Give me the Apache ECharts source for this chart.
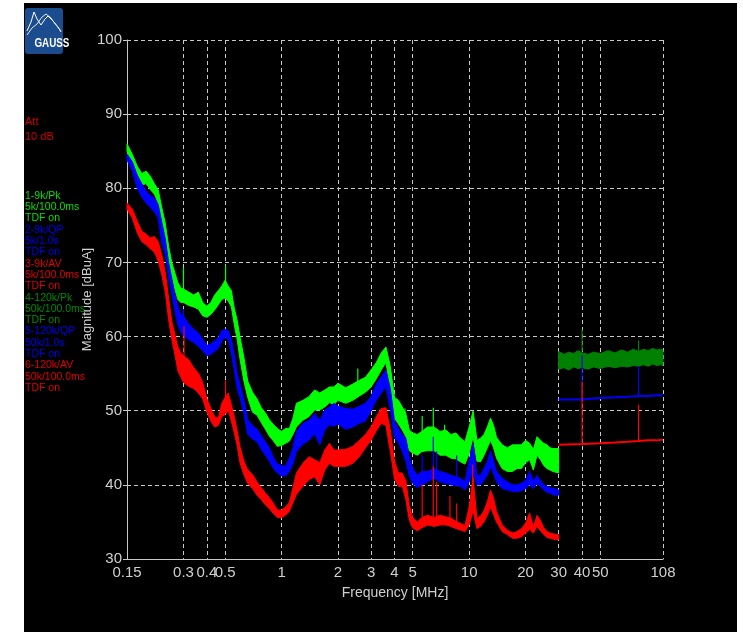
<!DOCTYPE html>
<html>
<head>
<meta charset="utf-8">
<script src="https://cdn.jsdelivr.net/npm/echarts@6.0.0/dist/echarts.min.js"></script>
<style>
  html, body { margin: 0; padding: 0; background: #ffffff; }
  #bg { position: absolute; left: 24px; top: 3px; width: 713px; height: 629px; background: #000000; }
  #chart { position: absolute; left: 0; top: 0; width: 743px; height: 632px; }
</style>
</head>
<body>
<div id="bg"></div>
<div id="chart"></div>
<script>
// frequency grid of the 9 kHz band (MHz)
const freq9k = [0.15, 0.16, 0.17, 0.18, 0.19, 0.20, 0.21, 0.22, 0.23, 0.24, 0.25, 0.26, 0.27, 0.28, 0.29, 0.30,
  0.32, 0.34, 0.36, 0.38, 0.40, 0.42, 0.44, 0.46, 0.48, 0.50, 0.52, 0.54, 0.56, 0.58, 0.60,
  0.63, 0.66, 0.70, 0.74, 0.78, 0.82, 0.86, 0.90, 0.95, 1.0, 1.05, 1.1, 1.15, 1.2,
  1.3, 1.4, 1.5, 1.6, 1.7, 1.8, 1.9, 2.0, 2.2, 2.4, 2.6, 2.8, 3.0, 3.2, 3.4, 3.6, 3.8,
  4.0, 4.2, 4.4, 4.6, 4.8, 5.0, 5.3, 5.6, 6.0, 6.5, 7.0, 7.5, 8.0, 8.5, 9.0, 9.5,
  10, 10.5, 11, 11.5, 12, 12.5, 13, 13.5, 14, 15, 16, 17, 18, 19, 20, 21, 22, 23, 24, 25, 26, 27, 28, 29, 30]

// 1-9k/Pk (green) lower / upper edge of the noise band, dBuA
const pkLo = [85.0, 83.2, 81.8, 80.5, 80.6, 79.8, 79.2, 78.0, 75.4, 73.0, 70.0, 68.2, 66.4, 65.0, 64.6, 64.6,
  64.2, 64.0, 63.7, 62.8, 62.6, 63.0, 63.6, 64.3, 65.0, 65.2, 64.8, 64.0, 61.6, 59.6, 57.0,
  54.0, 51.8, 49.8, 49.4, 48.4, 47.5, 46.6, 46.0, 45.2, 45.3, 45.6, 45.9, 46.8, 47.8,
  48.7, 49.2, 50.1, 50.1, 50.5, 51.1, 50.8, 51.4, 51.0, 51.4, 52.0, 52.5, 53.2, 54.3, 55.5, 56.5, 53.0,
  49.0, 48.2, 47.4, 46.5, 44.6, 44.3, 44.0, 44.5, 44.6, 44.6, 44.0, 44.0, 43.6, 43.5, 43.1, 42.8,
  44.2, 46.5, 43.2, 43.1, 44.0, 45.0, 46.0, 45.0, 43.6, 42.2, 41.8, 41.8, 42.2, 42.2, 43.0, 43.4, 42.0, 44.0, 43.4, 42.6, 42.2, 42.0, 41.8, 41.7, 41.6]
const pkHi = [86.0, 84.6, 83.0, 82.0, 82.3, 81.6, 80.6, 79.8, 77.4, 75.3, 72.2, 70.0, 68.6, 67.3, 66.6, 66.4,
  66.0, 65.6, 66.0, 64.6, 64.1, 64.6, 65.6, 66.2, 66.8, 67.6, 66.8, 66.2, 63.8, 62.2, 60.0,
  57.2, 54.0, 52.5, 51.6, 50.4, 49.7, 48.8, 48.2, 47.6, 47.2, 47.6, 47.6, 49.0, 51.0,
  51.4, 51.9, 52.8, 52.4, 52.8, 53.2, 53.2, 53.7, 53.1, 53.6, 54.1, 54.5, 55.5, 56.5, 57.8, 58.6, 56.0,
  51.8, 51.4, 50.5, 49.6, 47.4, 47.0, 46.8, 47.2, 47.8, 47.8, 47.2, 47.4, 46.8, 47.0, 46.3, 45.8,
  47.8, 50.0, 46.0, 46.3, 46.8, 47.8, 49.0, 48.0, 46.4, 45.4, 45.0, 45.4, 45.4, 45.4, 46.0, 45.6, 44.8, 46.5, 46.0, 45.6, 45.4, 45.0, 44.9, 44.9, 44.9]

// 2-9k/QP (blue)
const qpLo = [83.8, 82.4, 80.0, 78.8, 78.0, 77.4, 76.8, 76.0, 72.6, 71.0, 68.0, 65.8, 63.4, 61.6, 60.6, 60.1,
  59.6, 59.2, 58.7, 58.1, 57.4, 57.6, 58.0, 58.4, 59.4, 59.9, 59.6, 57.8, 55.5, 53.0, 51.8,
  49.6, 46.8, 46.2, 45.8, 44.8, 44.0, 43.2, 42.3, 41.6, 41.2, 41.2, 41.8, 42.8, 44.5,
  45.5, 46.0, 46.9, 45.4, 47.4, 48.1, 47.9, 48.2, 47.5, 47.8, 48.3, 48.6, 50.0, 51.4, 52.4, 53.2, 50.2,
  46.4, 45.7, 44.5, 43.2, 41.2, 40.2, 39.6, 40.0, 40.4, 40.9, 40.4, 40.2, 40.0, 39.9, 39.8, 39.3,
  40.4, 42.0, 40.0, 40.0, 40.6, 41.3, 42.5, 41.5, 40.4, 39.5, 39.3, 39.1, 39.1, 39.2, 39.5, 40.0, 39.5, 40.2, 39.8, 39.3, 39.0, 38.9, 38.7, 38.6, 38.6]
const qpHi = [84.6, 83.6, 81.8, 80.6, 79.6, 79.0, 78.7, 77.8, 75.4, 73.2, 70.0, 67.8, 65.6, 64.1, 63.0, 62.8,
  61.7, 61.0, 60.5, 59.6, 58.8, 59.0, 59.4, 59.8, 60.8, 61.0, 60.8, 59.6, 57.5, 55.0, 53.6,
  51.4, 48.8, 48.0, 47.5, 46.6, 45.8, 45.0, 43.8, 42.8, 42.6, 42.5, 43.6, 45.0, 47.2,
  48.3, 48.7, 49.6, 48.7, 50.1, 50.5, 51.0, 50.6, 50.3, 50.2, 50.6, 51.0, 51.9, 53.6, 54.6, 55.5, 53.0,
  48.6, 47.6, 46.8, 46.3, 43.6, 42.2, 41.3, 41.8, 41.8, 42.2, 41.8, 41.6, 41.3, 41.1, 40.9, 40.4,
  43.2, 45.6, 41.3, 41.3, 42.2, 43.1, 44.6, 43.2, 41.8, 40.9, 40.4, 40.0, 40.0, 40.2, 40.6, 41.8, 40.5, 41.3, 40.6, 40.0, 39.8, 39.6, 39.5, 39.4, 39.3]

// 3-9k/AV (red)
const avLo = [77.2, 76.0, 74.0, 72.8, 72.4, 71.8, 71.4, 70.2, 68.3, 66.0, 62.3, 59.6, 57.6, 55.4, 54.6, 53.8,
  53.3, 53.0, 52.4, 51.6, 49.8, 48.6, 47.8, 48.0, 49.2, 49.5, 50.0, 48.6, 47.0, 45.3, 43.0,
  41.4, 40.2, 39.5, 38.6, 38.0, 37.3, 36.8, 36.2, 35.6, 35.6, 35.9, 36.4, 37.6, 38.7,
  39.8, 40.7, 41.1, 40.0, 42.0, 42.9, 42.5, 42.5, 42.5, 42.9, 43.8, 45.0, 46.0, 47.3, 48.3, 48.0, 44.5,
  40.8, 39.8, 39.8, 38.0, 35.2, 34.2, 33.8, 34.2, 34.6, 34.4, 34.6, 34.6, 34.4, 34.1, 33.9, 33.7,
  34.6, 36.5, 34.1, 34.4, 35.0, 35.9, 37.0, 36.0, 35.0, 33.7, 33.3, 32.8, 32.8, 33.0, 33.5, 34.0, 33.5, 34.4, 33.8, 33.3, 32.9, 32.8, 32.7, 32.6, 32.6]
const avHi = [78.0, 77.2, 75.6, 74.2, 73.8, 73.3, 73.5, 72.8, 71.0, 68.6, 65.2, 62.0, 60.3, 58.6, 57.8, 57.4,
  56.9, 55.8, 55.1, 53.8, 51.6, 50.3, 49.2, 49.0, 51.0, 51.8, 52.4, 50.8, 49.2, 47.3, 45.2,
  43.2, 42.0, 41.4, 40.4, 39.6, 38.9, 38.3, 37.6, 36.6, 36.6, 37.0, 37.6, 39.6, 41.6,
  42.9, 43.8, 43.4, 43.0, 44.7, 45.6, 44.7, 44.7, 44.8, 45.2, 46.0, 46.8, 47.8, 49.2, 50.3, 50.4, 47.4,
  43.2, 41.6, 41.6, 40.5, 37.2, 35.6, 35.0, 35.6, 35.9, 35.6, 35.9, 35.7, 35.5, 35.1, 34.8, 34.5,
  37.0, 41.0, 35.5, 35.8, 36.5, 37.7, 39.3, 38.2, 36.4, 34.6, 33.9, 33.5, 33.7, 34.1, 34.8, 36.2, 34.3, 35.9, 35.2, 34.2, 33.7, 33.5, 33.4, 33.3, 33.3]

// narrow spikes: [freq, from, to]
const pkSpikes = [[0.30, 66.0, 69.3], [0.503, 67.0, 69.6], [2.55, 53.5, 55.7], [4.55, 49.0, 50.3], [5.62, 46.5, 49.3], [6.44, 47.0, 50.4], [7.4, 46.5, 48.1]]
const qpSpikes = [[0.30, 62.0, 63.7], [5.62, 41.0, 44.0], [6.44, 41.5, 46.5], [6.71, 41.5, 44.5], [8.58, 41.0, 44.0]]
const avSpikes = [[0.302, 56.0, 61.4], [0.503, 51.5, 54.1], [5.62, 35.0, 40.0], [6.44, 35.0, 42.5], [6.71, 35.5, 40.4], [7.9, 35.0, 38.5], [8.58, 35.0, 37.5], [10.45, 40.0, 42.7]]

// 120 kHz band
const freq120k = [30, 32, 34, 36, 38, 40, 43, 46, 50, 55, 60, 65, 70, 75, 80, 85, 90, 95, 100, 105, 108]
const pk120Lo = [55.6, 55.8, 55.5, 55.9, 55.7, 55.8, 55.6, 55.9, 55.7, 56.0, 55.8, 56.0, 55.9, 56.1, 56.0, 56.2, 56.0, 56.3, 56.1, 56.2, 56.1]
const pk120Hi = [58.0, 57.6, 57.9, 57.7, 58.1, 57.8, 57.6, 57.9, 57.7, 58.1, 57.8, 58.2, 57.9, 58.3, 58.0, 58.3, 58.1, 58.4, 58.2, 58.3, 58.2]
const qp120Freq = [30, 39.9, 40.1, 50, 60, 70, 80, 90, 100, 108]
const qp120 = [51.5, 51.5, 51.6, 51.7, 51.8, 51.9, 52.0, 52.0, 52.1, 52.1]
const av120Freq = [30, 40, 50, 60, 70, 80, 90, 100, 108]
const av120 = [45.4, 45.5, 45.6, 45.7, 45.8, 45.9, 46.0, 46.0, 46.1]
const pk120Spikes = [[40, 58.0, 61.0], [80, 58.0, 59.5]]
const qp120Spikes = [[40, 51.5, 57.5], [80, 52.0, 56.0]]
const av120Spikes = [[40, 45.5, 53.9], [80, 45.9, 50.8]]

const xTicks = [0.15, 0.3, 0.4, 0.5, 1, 2, 3, 4, 5, 10, 20, 30, 40, 50, 108]

const legendLines = [
  ['1-9k/Pk', '#00e000'], ['5k/100.0ms', '#00e000'], ['TDF on', '#00e000'],
  ['2-9k/QP', '#0000ee'], ['5k/1.0s', '#0000ee'], ['TDF on', '#0000ee'],
  ['3-9k/AV', '#e00000'], ['5k/100.0ms', '#e00000'], ['TDF on', '#e00000'],
  ['4-120k/Pk', '#008a00'], ['50k/100.0ms', '#008a00'], ['TDF on', '#008a00'],
  ['5-120k/QP', '#0000ee'], ['50k/1.0s', '#0000ee'], ['TDF on', '#0000ee'],
  ['6-120k/AV', '#e00000'], ['50k/100.0ms', '#e00000'], ['TDF on', '#e00000']
]

const GREEN = '#00ff00'
const DKGREEN = '#008000'
const BLUE = '#0000ff'
const RED = '#ff0000'
const GRID = '#c8c8c8'
const FONT = '"Liberation Sans", Arial, sans-serif'

const chart = echarts.init(document.getElementById('chart'))

// filled band between lower and upper edge
const band = (freq, lo, hi, color, z) => ({
  type: 'custom',
  z,
  silent: true,
  animation: false,
  data: freq.map((f, i) => [f, lo[i], hi[i]]),
  encode: { x: 0, y: [1, 2] },
  renderItem: (params, api) => {
    if (params.dataIndex !== 0) return null
    const pts = []
    for (let i = 0; i < freq.length; i++) pts.push(api.coord([freq[i], hi[i]]))
    for (let i = freq.length - 1; i >= 0; i--) pts.push(api.coord([freq[i], lo[i]]))
    return {
      type: 'polygon',
      shape: { points: pts },
      style: { fill: color, stroke: color, lineWidth: 1 }
    }
  }
})

const spikes = (data, color, z) => ({
  type: 'custom',
  z,
  silent: true,
  animation: false,
  data,
  encode: { x: 0, y: [1, 2] },
  renderItem: (params, api) => {
    const p0 = api.coord([api.value(0), api.value(1)])
    const p1 = api.coord([api.value(0), api.value(2)])
    return {
      type: 'line',
      shape: { x1: p0[0], y1: p0[1], x2: p1[0], y2: p1[1] },
      style: { stroke: color, lineWidth: 1.2 }
    }
  }
})

const flat = (freq, vals, color, z) => ({
  type: 'line',
  z,
  silent: true,
  animation: false,
  showSymbol: false,
  data: freq.map((f, i) => [f, vals[i]]),
  lineStyle: { color, width: 2 }
})

const graphics = [
  { type: 'rect', shape: { x: 25, y: 8, width: 38, height: 46, r: 3 }, style: { fill: '#1b4c8e' } },
  { type: 'polyline', shape: { points: [[27, 31], [31, 22], [34, 12], [37, 19], [41, 25], [45, 19], [48, 16], [53, 21], [58, 27], [61, 32]] },
    style: { stroke: '#ffffff', lineWidth: 1, fill: null } },
  { type: 'polyline', shape: { points: [[27, 35], [32, 28], [37, 24], [42, 17], [46, 14], [51, 18], [56, 25], [61, 31]] },
    style: { stroke: '#dfe8f5', lineWidth: 1, fill: null } },
  { type: 'text', x: 44, y: 44, scaleX: 0.82, originX: 44, originY: 44,
    style: { text: 'GAUSS', fill: '#ffffff', font: 'bold 12px ' + FONT, align: 'center', verticalAlign: 'middle' } },
  { type: 'text', x: 25, y: 122, style: { text: 'Att', fill: '#d00000', font: '11px ' + FONT, verticalAlign: 'middle' } },
  { type: 'text', x: 25, y: 137, style: { text: '10 dB', fill: '#d00000', font: '11px ' + FONT, verticalAlign: 'middle' } }
]
legendLines.forEach((l, i) => {
  graphics.push({ type: 'text', x: 25, y: 196 + i * 11.3, style: { text: l[0], fill: l[1], font: '10.5px ' + FONT, verticalAlign: 'middle' } })
})

const option = {
  backgroundColor: 'transparent',
  animation: false,
  grid: { left: 127, right: 80, top: 40, bottom: 73, containLabel: false },
  graphic: graphics,
  xAxis: {
    type: 'log',
    logBase: 10,
    min: 0.15,
    max: 108,
    name: 'Frequency [MHz]',
    nameLocation: 'middle',
    nameGap: 27,
    nameMoveOverlap: false,
    nameTextStyle: { color: '#d0d0d0', fontSize: 14, fontFamily: FONT },
    axisLine: { show: true, lineStyle: { color: GRID, width: 1 } },
    axisTick: { show: false, customValues: xTicks },
    axisLabel: {
      customValues: xTicks,
      color: '#d0d0d0',
      fontSize: 15,
      fontFamily: FONT,
      margin: 6,
      formatter: v => String(+Number(v).toPrecision(3))
    },
    splitLine: { show: true, lineStyle: { color: GRID, type: [4, 3], width: 1 } },
    minorTick: { show: false },
    minorSplitLine: { show: false }
  },
  yAxis: {
    type: 'value',
    min: 30,
    max: 100,
    interval: 10,
    name: 'Magnitude [dBuA]',
    nameLocation: 'middle',
    nameRotate: 90,
    nameGap: 33,
    nameMoveOverlap: false,
    nameTextStyle: { color: '#d0d0d0', fontSize: 13, fontFamily: FONT },
    axisLine: { show: true, lineStyle: { color: GRID, width: 1 } },
    axisTick: { show: true, inside: false, length: 4, lineStyle: { color: GRID } },
    axisLabel: { color: '#d0d0d0', fontSize: 15, fontFamily: FONT, margin: 5 },
    splitLine: { show: true, lineStyle: { color: GRID, type: [4, 3], width: 1 } }
  },
  series: [
    band(freq9k, pkLo, pkHi, GREEN, 2),
    spikes(pkSpikes, GREEN, 2),
    band(freq9k, qpLo, qpHi, BLUE, 3),
    spikes(qpSpikes, BLUE, 3),
    band(freq9k, avLo, avHi, RED, 4),
    spikes(avSpikes, RED, 4),
    band(freq120k, pk120Lo, pk120Hi, DKGREEN, 2),
    spikes(pk120Spikes, DKGREEN, 2),
    flat(qp120Freq, qp120, BLUE, 3),
    spikes(qp120Spikes, BLUE, 3),
    flat(av120Freq, av120, RED, 4),
    spikes(av120Spikes, RED, 4)
  ]
}

chart.setOption(option)
window.addEventListener('resize', () => chart.resize())
</script>
</body>
</html>
